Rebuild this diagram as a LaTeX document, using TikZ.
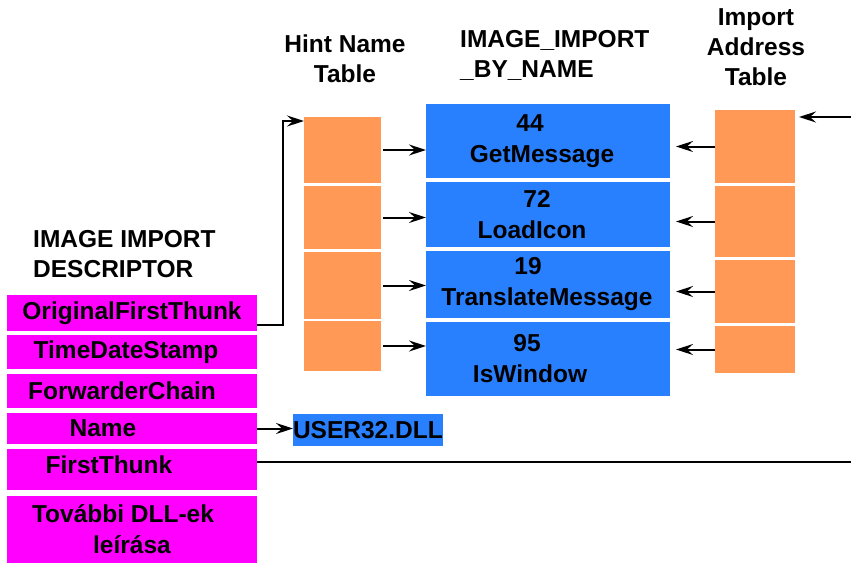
\documentclass[tikz,border=0pt]{standalone}
\usepackage{fontspec}
\setmainfont{Liberation Sans}
\usetikzlibrary{arrows.meta}

\definecolor{descmag}{RGB}{255,0,255}
\definecolor{hintorange}{RGB}{255,153,85}
\definecolor{namblue}{RGB}{41,128,255}

% pulls a centred line of text to the left by #1
\newcommand{\pull}[1]{\hspace*{-#1}}

\tikzset{
  cell/.style={anchor=north west, inner sep=0pt, outer sep=0pt, align=center,
    font=\bfseries\fontsize{24.5}{31}\selectfont},
  desc/.style={cell, fill=descmag, minimum width=250pt},
  hint/.style={cell, fill=hintorange, minimum width=77pt},
  iat/.style={cell, fill=hintorange, minimum width=80pt},
  byname/.style={cell, fill=namblue, minimum width=244pt},
  heading/.style={inner sep=0pt, font=\bfseries\fontsize{24.5}{30}\selectfont},
  ptr/.style={line width=2pt, -{Stealth[length=17pt,width=11pt,inset=6pt]}},
  wire/.style={line width=2pt}
}

\begin{document}
\begin{tikzpicture}[x=1pt,y=-1pt]
\useasboundingbox (0,0) rectangle (851,563);

% import descriptor
\node[heading, anchor=north west, align=left] (desctitle) at (33,230) {IMAGE IMPORT\\DESCRIPTOR};
\node[desc, minimum height=36pt] (desc1) at (7,295) {OriginalFirstThunk};
\node[desc, minimum height=34pt] (desc2) at (7,335) {\pull{12pt}TimeDateStamp};
\node[desc, minimum height=34pt] (desc3) at (7,374) {\pull{20pt}ForwarderChain};
\node[desc, minimum height=31pt] (desc4) at (7,413) {\pull{58pt}Name};
\node[desc, minimum height=41pt] (desc5) at (7,449) {\pull{46pt}\raisebox{9pt}{FirstThunk}};
\node[desc, minimum height=67pt] (desc6) at (7,496) {\pull{18pt}További DLL-ek\\leírása};

% hint name table
\node[heading, anchor=north, align=center] (hinttitle) at (345,35) {Hint Name\\Table};
\node[hint, minimum height=66pt] (hint1) at (304,117) {};
\node[hint, minimum height=63pt] (hint2) at (304,186) {};
\node[hint, minimum height=67pt] (hint3) at (304,252) {};
\node[hint, minimum height=50pt] (hint4) at (304,321) {};

% by name entries
\node[heading, anchor=north west, align=left] (bynametitle) at (460,30) {IMAGE\_IMPORT\\\_BY\_NAME};
\node[byname, minimum height=74pt] (byname1) at (426,104) {\pull{36pt}44\\\pull{12pt}GetMessage};
\node[byname, minimum height=65pt] (byname2) at (426,182) {\pull{22pt}72\\\pull{32pt}LoadIcon};
\node[byname, minimum height=67pt] (byname3) at (426,251) {\pull{40pt}19\\\pull{2pt}TranslateMessage};
\node[byname, minimum height=74pt] (byname4) at (426,322) {\pull{42pt}95\\\pull{36pt}IsWindow};

% import address table
\node[heading, anchor=north, align=center] (iattitle) at (756,8) {Import\\Address\\Table};
\node[iat, minimum height=73pt] (iat1) at (715,110) {};
\node[iat, minimum height=71pt] (iat2) at (715,186) {};
\node[iat, minimum height=63pt] (iat3) at (715,260) {};
\node[iat, minimum height=47pt] (iat4) at (715,326) {};

\node[cell, fill=namblue, minimum width=137pt, minimum height=32pt] (dll) at (293,414) {USER32.DLL};

\coordinate (iatin) at (851,117);
\coordinate (ftend) at (851,462);

\draw[ptr] ([yshift=-12pt]desc1.east) -- ++(26,0) |- ([yshift=-4pt]hint1.north west);
\foreach \i in {1,...,4}{
  \draw[ptr] ([xshift=2pt]hint\i.east) -- (hint\i.east -| byname\i.west);
  \draw[ptr] (iat\i.west) -- ([xshift=6pt]iat\i.west -| byname\i.east);
}
\draw[ptr] (iatin) -- ([xshift=4pt,yshift=-7pt]iat1.north east);
\draw[ptr] (desc4.east) -- (desc4.east -| dll.west);
\draw[wire] (desc5.east |- ftend) -- (ftend);
\end{tikzpicture}
\end{document}
